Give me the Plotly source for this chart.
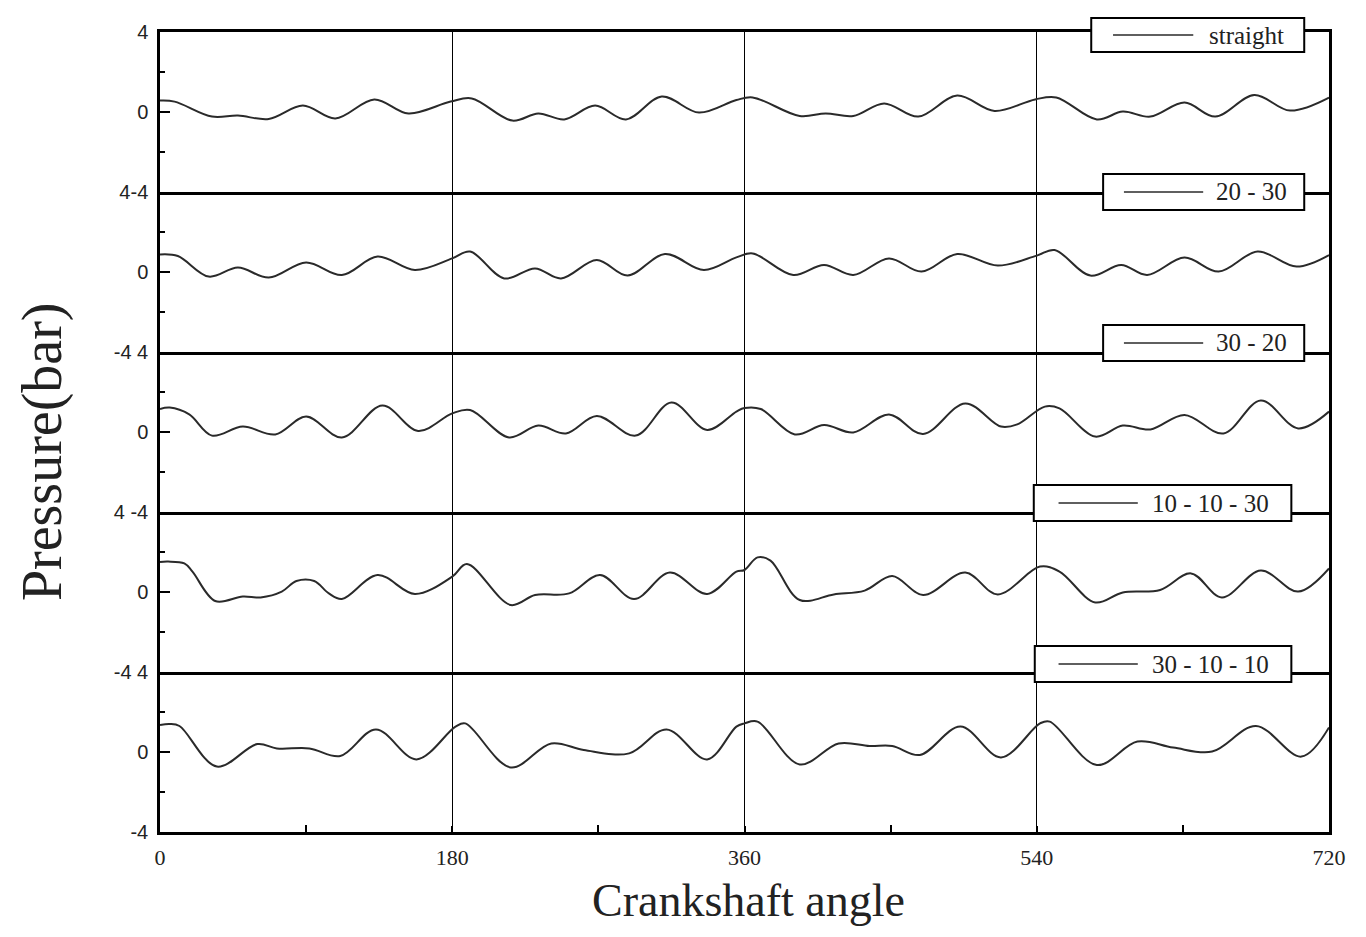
import plotly.graph_objects as go
from plotly.subplots import make_subplots

# ---------------- data ----------------
series_names = ["straight", "20 - 30", "30 - 20", "10 - 10 - 30", "30 - 10 - 10"]

angle_straight = [0, 9, 32, 48, 67, 88, 108, 132, 153, 179, 192, 217, 233, 249, 268, 287, 309, 332, 355, 365,
                  394, 410, 427, 446, 467, 491, 514, 539, 552, 577, 593, 610, 631, 650, 674, 696, 720]
p_straight = [0.57, 0.52, -0.23, -0.18, -0.35, 0.32, -0.32, 0.63, -0.07, 0.52, 0.68, -0.43, -0.07, -0.37, 0.32,
              -0.37, 0.77, -0.03, 0.6, 0.73, -0.2, -0.07, -0.2, 0.43, -0.23, 0.82, 0.05, 0.63, 0.73, -0.37,
              0.02, -0.23, 0.47, -0.23, 0.85, 0.07, 0.72]

angle_20_30 = [0, 11, 30, 48, 67, 90, 112, 134, 157, 180, 191, 212, 231, 247, 269, 288, 311, 335, 355, 365,
               390, 409, 427, 449, 469, 491, 516, 540, 551, 573, 592, 608, 631, 652, 676, 700, 720]
p_20_30 = [0.88, 0.8, -0.23, 0.22, -0.28, 0.48, -0.15, 0.77, 0.1, 0.68, 1.02, -0.32, 0.18, -0.32, 0.6, -0.18,
           0.9, 0.1, 0.73, 0.93, -0.15, 0.35, -0.15, 0.68, 0.02, 0.9, 0.32, 0.82, 1.1, -0.18, 0.35, -0.15,
           0.72, 0.02, 1.02, 0.27, 0.85]

angle_30_20 = [0, 6, 18, 32, 51, 71, 90, 112, 137, 159, 180, 191, 215, 233, 250, 269, 293, 315, 337, 355,
               360, 370, 391, 409, 427, 449, 470, 496, 518, 528, 545, 554, 576, 593, 610, 631, 655, 678, 701, 720]
p_30_20 = [1.15, 1.22, 0.88, -0.18, 0.27, -0.12, 0.77, -0.27, 1.32, 0.05, 0.93, 1.1, -0.27, 0.32, -0.07, 0.8,
           -0.18, 1.47, 0.1, 1.02, 1.2, 1.15, -0.12, 0.35, -0.02, 0.88, -0.1, 1.43, 0.27, 0.38, 1.27, 1.18,
           -0.23, 0.32, 0.13, 0.85, -0.07, 1.57, 0.18, 1.02]

angle_10_10_30 = [0, 5, 15, 20, 34, 51, 62, 75, 84, 95, 104, 112, 134, 157, 180, 189, 216, 231, 252, 271,
                  292, 314, 337, 355, 360, 368, 376, 394, 415, 434, 451, 470, 496, 516, 542, 554, 576, 593,
                  616, 635, 654, 678, 701, 720]
p_10_10_30 = [1.5, 1.52, 1.43, 1.02, -0.45, -0.23, -0.27, 0.02, 0.55, 0.55, -0.07, -0.35, 0.85, -0.1, 0.77,
              1.4, -0.65, -0.15, -0.07, 0.85, -0.35, 0.97, -0.1, 1.02, 1.1, 1.73, 1.57, -0.4, -0.12, 0.07,
              0.8, -0.15, 0.97, -0.12, 1.27, 1.02, -0.52, -0.02, 0.1, 0.93, -0.27, 1.07, 0.02, 1.18]

angle_30_10_10 = [0, 6, 12, 35, 60, 72, 92, 111, 133, 158, 182, 188, 216, 241, 261, 289, 312, 337, 355, 360,
                  368, 394, 418, 437, 451, 468, 493, 518, 542, 548, 577, 602, 624, 648, 675, 703, 720]
p_30_10_10 = [1.35, 1.4, 1.3, -0.73, 0.4, 0.18, 0.18, -0.2, 1.13, -0.37, 1.27, 1.43, -0.77, 0.43, 0.1, -0.07,
              1.13, -0.37, 1.27, 1.43, 1.52, -0.62, 0.43, 0.3, 0.3, -0.15, 1.27, -0.27, 1.43, 1.52, -0.65,
              0.52, 0.22, 0.02, 1.3, -0.23, 1.23]

x_tick_vals = [0, 180, 360, 540, 720]
x_tick_text = ["0", "180", "360", "540", "720"]
y_tick_text = [["4", "0", "4-4"], ["0", "-4 4"], ["0", "4 -4"], ["0", "-4 4"], ["0", "-4"]]

angles = [angle_straight, angle_20_30, angle_30_20, angle_10_10_30, angle_30_10_10]
pressures = [p_straight, p_20_30, p_30_20, p_10_10_30, p_30_10_10]

# ---------------- figure ----------------
W, H = 1350, 921
ML, MR, MT, MB = 152, 18, 24, 97
PW, PH = W - ML - MR, H - MT - MB
OFF = 8  # body margin of the page


def px(xp):
    return (xp - OFF - ML) / PW


def py(yp):
    return 1 - (yp - OFF - MT) / PH


fig = make_subplots(rows=5, cols=1, shared_xaxes=True, vertical_spacing=0)

for i in range(5):
    fig.add_trace(go.Scatter(x=angles[i], y=pressures[i], mode="lines", name=series_names[i],
                             line=dict(color="#2a2a2a", width=2, shape="spline", smoothing=1.0),
                             showlegend=False), row=i + 1, col=1)
    tv = [4, 0, -4] if i == 0 else [0, -4]
    fig.update_yaxes(row=i + 1, col=1, range=[-4, 4], showline=True, linecolor="black", linewidth=2.5,
                     mirror=True, ticks="inside", ticklen=10, tickwidth=1.5, tickcolor="black",
                     tickvals=tv, ticktext=y_tick_text[i], showgrid=False, zeroline=False,
                     tickfont=dict(family="Liberation Sans", size=20, color="#222"),
                     ticklabelstandoff=5,
                     minor=dict(ticks="inside", ticklen=5, tickwidth=1.5, tickcolor="black", tickvals=[-2, 2]))
    fig.update_xaxes(row=i + 1, col=1, range=[0, 720], showline=True, linecolor="black", linewidth=2.5,
                     mirror=(i == 0), showgrid=True, gridcolor="black", gridwidth=1.2,
                     tickvals=x_tick_vals, ticktext=x_tick_text, zeroline=False)

for i in range(4):
    fig.update_xaxes(row=i + 1, col=1, showticklabels=False, ticks="")

fig.update_xaxes(row=5, col=1, ticks="inside", ticklen=6, tickcolor="black", tickwidth=1.5,
                 tickfont=dict(family="Liberation Serif", size=22, color="#222"), ticklabelstandoff=4,
                 minor=dict(ticks="inside", ticklen=7, tickwidth=1.5, tickcolor="black", tickvals=[90, 270, 450, 630]))

# legend boxes (pixel geometry in the page)
legend_boxes = [
    dict(x0=1100, x1=1315, y0=18, y1=52, lx0=1122, lx1=1203, tx=1297),
    dict(x0=1112, x1=1315, y0=174, y1=210, lx0=1133, lx1=1213, tx=1300),
    dict(x0=1112, x1=1315, y0=325, y1=361, lx0=1133, lx1=1213, tx=1300),
    dict(x0=1042, x1=1302, y0=485, y1=521, lx0=1067, lx1=1147, tx=1281),
    dict(x0=1043, x1=1302, y0=646, y1=682, lx0=1067, lx1=1147, tx=1281),
]
shapes = []
annotations = []
for name, b in zip(series_names, legend_boxes):
    yc = (b["y0"] + b["y1"]) / 2
    shapes.append(dict(type="rect", xref="paper", yref="paper", x0=px(b["x0"]), x1=px(b["x1"]),
                       y0=py(b["y1"]), y1=py(b["y0"]), line=dict(color="black", width=2),
                       fillcolor="white", layer="above"))
    shapes.append(dict(type="line", xref="paper", yref="paper", x0=px(b["lx0"]), x1=px(b["lx1"]),
                       y0=py(yc), y1=py(yc), line=dict(color="#2a2a2a", width=1.5), layer="above"))
    annotations.append(dict(text=name, xref="paper", yref="paper", x=px(b["tx"]), y=py(yc),
                            xanchor="right", yanchor="middle", showarrow=False,
                            font=dict(family="Liberation Serif", size=25, color="#222")))

annotations.append(dict(text="Pressure(bar)", xref="paper", yref="paper", x=px(41), y=py(452),
                        xanchor="center", yanchor="middle", textangle=-90, showarrow=False,
                        font=dict(family="Liberation Serif", size=56, color="#222")))
annotations.append(dict(text="Crankshaft angle", xref="paper", yref="paper", x=px(754), y=py(928),
                        xanchor="center", yanchor="bottom", showarrow=False,
                        font=dict(family="Liberation Serif", size=46, color="#222")))

fig.update_layout(width=W, height=H, autosize=False,
                  margin=dict(l=ML, r=MR, t=MT, b=MB),
                  paper_bgcolor="white", plot_bgcolor="white",
                  shapes=shapes, annotations=annotations, showlegend=False)

fig.write_html("out.html")
